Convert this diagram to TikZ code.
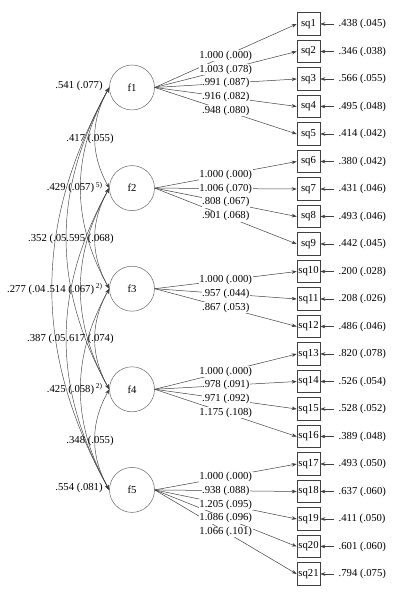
\documentclass[tikz,border=0pt]{standalone}
\usepackage{fontspec}
\setmainfont{Liberation Serif}
\usetikzlibrary{arrows.meta}

\begin{document}
\begin{tikzpicture}[x=1pt,y=-1pt,
  every node/.style={font=\fontsize{10.7}{12}\selectfont},
  factor/.style={circle,draw=black!60,line width=0.5pt,minimum size=45pt,inner sep=0pt},
  item/.style={rectangle,draw=black!75,line width=0.6pt,minimum width=23pt,minimum height=22.5pt,inner sep=0pt},
  load/.style={draw=black!75,line width=0.5pt,-{Stealth[length=5pt,width=3.6pt]}},
  lbl/.style={fill=white,inner sep=0.6pt},
  cov/.style={draw=black!75,line width=0.45pt,
    {Stealth[length=5pt,width=3.6pt]}-{Stealth[length=5pt,width=3.6pt]},bend right=29},
  note/.style={inner sep=0pt},
  frag/.style={inner sep=0pt,font=\fontsize{7.5}{8}\selectfont},
]
\useasboundingbox (0,0) rectangle (401,593);

% latent factors
\node[factor] (f1) at (132,87.5)  {f1};
\node[factor] (f2) at (132,188.1) {f2};
\node[factor] (f3) at (132,288.7) {f3};
\node[factor] (f4) at (132,389.3) {f4};
\node[factor] (f5) at (132,489.9) {f5};

% observed items
\foreach \i in {1,...,21}
  \node[item] (sq\i) at (308.5,{24+(\i-1)*27.5}) {sq\i};

% residual variances
\foreach \i/\v in {1/.438 (.045),2/.346 (.038),3/.566 (.055),4/.495 (.048),5/.414 (.042),
  6/.380 (.042),7/.431 (.046),8/.493 (.046),9/.442 (.045),10/.200 (.028),11/.208 (.026),
  12/.486 (.046),13/.820 (.078),14/.526 (.054),15/.528 (.052),16/.389 (.048),
  17/.493 (.050),18/.637 (.060),19/.411 (.050),20/.601 (.060),21/.794 (.075)}{
  \node[note,anchor=west] (e\i) at (338.5,{24+(\i-1)*27.5}) {\v};
  \draw[load,shorten <=5pt] (e\i.west) -- (sq\i.east);
}

% factor loadings: lines first, estimates on top
\def\loadings{1/1/1.000 (.000),1/2/1.003 (.078),1/3/.991 (.087),1/4/.916 (.082),1/5/.948 (.080),
  2/6/1.000 (.000),2/7/1.006 (.070),2/8/.808 (.067),2/9/.901 (.068),
  3/10/1.000 (.000),3/11/.957 (.044),3/12/.867 (.053),
  4/13/1.000 (.000),4/14/.978 (.091),4/15/.971 (.092),4/16/1.175 (.108),
  5/17/1.000 (.000),5/18/.938 (.088),5/19/1.205 (.095),5/20/1.086 (.096),5/21/1.066 (.101)}
\foreach \f/\i/\t in \loadings
  \draw[load] (f\f.east) -- (sq\i.west);
\foreach \f/\i/\t in \loadings
  \path (f\f.east) -- node[lbl] {\t} (sq\i.west);

% factor variances
\node[note] (v1) at (79,86)  {.541 (.077)};
\node[note] (v5) at (79,488) {.554 (.081)};

% factor covariances
\draw[cov] (f1.west) to (f2.west);
\node[note] (c12) at (90,139) {.417 (.055)};
\draw[cov] (f1.west) to (f3.west);
\node[note] (c13) at (70.5,188) {.429 (.057)};
\node[frag] (r2) at (99,185.5) {5)};
\draw[cov] (f1.west) to (f4.west);
\node[note,anchor=west] (c14) at (28,239) {.352 (.05};
\draw[cov] (f1.west) to (f5.west);
\node[note,anchor=west] (c15) at (7,290) {.277 (.04};
\draw[cov] (f2.west) to (f3.west);
\node[note] (c23) at (90,239) {.595 (.068)};
\draw[cov] (f2.west) to (f4.west);
\node[note] (c24) at (70.5,290) {.514 (.067)};
\node[frag] (r3) at (99,286.5) {2)};
\draw[cov] (f2.west) to (f5.west);
\node[note,anchor=west] (c25) at (27,339) {.387 (.05};
\draw[cov] (f3.west) to (f4.west);
\node[note] (c34) at (90,339) {.617 (.074)};
\draw[cov] (f3.west) to (f5.west);
\node[note] (c35) at (70.5,390) {.425 (.058)};
\node[frag] (r4) at (99,386.5) {2)};
\draw[cov] (f4.west) to (f5.west);
\node[note] (c45) at (90,441) {.348 (.055)};
\end{tikzpicture}
\end{document}
